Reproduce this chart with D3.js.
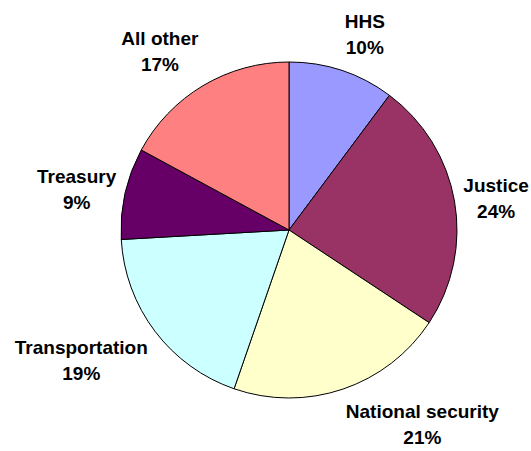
<!DOCTYPE html>
<html>
<head>
<meta charset="utf-8">
<script src="https://cdn.jsdelivr.net/npm/d3@7"></script>
<style>
  html, body { margin: 0; padding: 0; background: #fff; }
  text { font-family: "Liberation Sans", Arial, sans-serif; font-weight: bold; fill: #000; }
</style>
</head>
<body>
<svg id="chart" width="531" height="451"></svg>
<script>
// shares in percent
var categories = ["HHS", "Justice", "National security", "Transportation", "Treasury", "All other"];
var shares = [10.2, 24.1, 21.0, 18.8, 8.8, 17.1];
var colors = ["#9999FF", "#993366", "#FFFFCC", "#CCFFFF", "#660066", "#FF8080"];

var W = 531, H = 451;
var cx = 289, cy = 230, radius = 168;
var labelRx = 177, labelRy = 184, fontSize = 19, lineGap = 26;

var svg = d3.select("#chart");
var g = svg.append("g").attr("transform", "translate(" + cx + "," + cy + ")");

var data = categories.map(function(c, i) { return { name: c, value: shares[i], color: colors[i] }; });

var pie = d3.pie().sort(null).value(function(d) { return d.value; });
var arc = d3.arc().innerRadius(0).outerRadius(radius);
var arcs = pie(data);

g.selectAll("path.slice")
    .data(arcs)
    .enter()
    .append("path")
        .attr("class", "slice")
        .attr("d", arc)
        .attr("fill", function(d) { return d.data.color; })
        .attr("stroke", "#000")
        .attr("stroke-width", 1);

// excel-ish "best fit" label placement: box corner touches a point just outside the pie
function labelPos(d) {
    var a = (d.startAngle + d.endAngle) / 2;
    var px = labelRx * Math.sin(a), py = -labelRy * Math.cos(a);
    var c = Math.cos(a);
    var f = Math.abs(c) < 0.4 ? 0.5 : (c > 0 ? 1 : 0);   // fraction of box above the point
    var boxH = 13.5 + lineGap + 1;
    var top = py - boxH * f;
    return { x: px, y: top + 13.5, anchor: Math.sin(a) >= 0 ? "start" : "end" };
}

g.selectAll("text.lbl")
    .data(arcs)
    .enter()
    .append("text")
        .attr("class", "lbl")
        .attr("font-size", fontSize)
        .attr("text-anchor", "middle")
        .each(function(d) {
            var p = labelPos(d);
            var t = d3.select(this);
            var l1 = t.append("tspan").attr("y", p.y).text(d.data.name);
            var l2 = t.append("tspan").attr("y", p.y + lineGap).text(Math.round(d.data.value) + "%");
            // both lines centred on each other, block anchored at the point
            var w = Math.max(l1.node().getComputedTextLength(), l2.node().getComputedTextLength());
            var mid = p.anchor === "start" ? p.x + w / 2 : p.x - w / 2;
            l1.attr("x", mid);
            l2.attr("x", mid);
        });
</script>
</body>
</html>
